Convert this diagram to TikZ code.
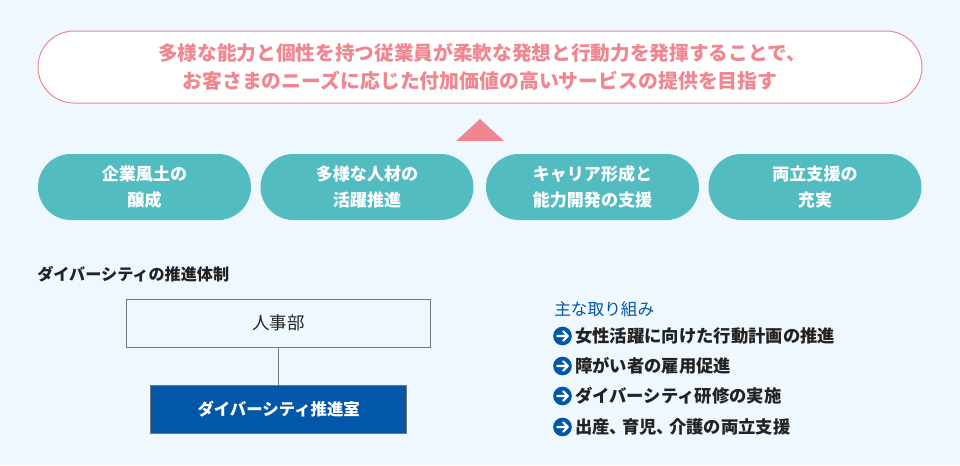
\documentclass[tikz,border=0pt]{standalone}
\usepackage{fontspec}
\setmainfont{Noto Sans CJK JP}
\definecolor{pagebg}{HTML}{EFF8FE}
\definecolor{goalpink}{HTML}{F0868F}
\definecolor{pillteal}{HTML}{52BCC1}
\definecolor{officeblue}{HTML}{0357A8}
\definecolor{listink}{HTML}{222222}
\definecolor{rulegray}{HTML}{777777}
\begin{document}
\begin{tikzpicture}[x=0.75pt, y=-0.75pt]
    \tikzstyle{goal}=[
        draw=goalpink, fill=white, line width=0.75pt, rounded corners=27pt,
        minimum width=663pt, minimum height=54pt, inner sep=0pt,
        align=center, text=goalpink, font=\fontsize{14.9pt}{21pt}\selectfont\bfseries]
    \tikzstyle{pill}=[
        fill=pillteal, rounded corners=24.75pt,
        minimum width=159.75pt, minimum height=49.5pt, inner sep=0pt,
        align=center, text=white, font=\fontsize{12.8pt}{19.5pt}\selectfont\bfseries]
    \tikzstyle{orgbox}=[
        draw=rulegray, line width=0.6pt, minimum height=36pt, inner sep=0pt]
    \tikzstyle{connector}=[draw=rulegray, line width=0.6pt]
    \tikzstyle{bullet}=[circle, fill=officeblue, minimum size=14pt, inner sep=0pt]
    \tikzstyle{itemtext}=[
        anchor=west, inner sep=0pt, text=listink,
        font=\fontsize{13pt}{15pt}\selectfont\bfseries]

    \fill [pagebg] (0, 0) rectangle (960, 465);

    \node [goal] (goal) at (480, 67)
        {\hspace{3pt}\fontsize{14.75pt}{21pt}\selectfont
         多様な能力と個性を持つ従業員が柔軟な発想と行動力を発揮することで、\\
         \fontsize{14.9pt}{21pt}\selectfont
         お客さまのニーズに応じた付加価値の高いサービスの提供を目指す};
    \fill [goalpink] (456, 141) -- (480, 119) -- (504, 141) -- cycle;

    \foreach \name / \x / \txt in {
        1/144.5/{企業風土の\\醸成},
        2/367/{多様な人材の\\活躍推進},
        3/592.5/{キャリア形成と\\能力開発の支援},
        4/815/{両立支援の\\充実}} {
        \node [pill] (P-\name) at (\x, 187) {\txt};
    }

    \node [anchor=west, inner sep=0pt, text=listink,
        font=\fontsize{12.1pt}{15pt}\selectfont\bfseries] (title) at (37, 274)
        {ダイバーシティの推進体制};

    \node [orgbox, minimum width=228pt, text=listink,
        font=\fontsize{13.1pt}{15pt}\selectfont] (hr) at (278.7, 323) {人事部};
    \node [orgbox, minimum width=192pt, fill=officeblue, text=white,
        font=\fontsize{12.3pt}{15pt}\selectfont\bfseries] (office) at (278.7, 409)
        {ダイバーシティ推進室};
    \path [connector] (hr) edge (office);

    \node [anchor=west, inner sep=0pt, text=officeblue,
        font=\fontsize{12.5pt}{15pt}\selectfont] (lead) at (554, 309)
        {主な取り組み};

    \foreach \name / \y / \txt in {
        1/336/女性活躍に向けた行動計画の推進,
        2/366/障がい者の雇用促進,
        3/396/ダイバーシティ研修の実施,
        4/427/出産、\kern-3.75pt 育児、\kern-3.75pt 介護の両立支援} {
        \node [bullet] (B-\name) at (562.5, \y) {};
        \node [itemtext] (T-\name) at (575, \y) {\txt};
        \draw [white, line width=1.6pt, line cap=round, line join=round]
            ([xshift=-4pt]B-\name.center) -- ([xshift=4pt]B-\name.center)
            ([xshift=0.5pt, yshift=3.5pt]B-\name.center)
            -- ([xshift=4pt]B-\name.center)
            -- ([xshift=0.5pt, yshift=-3.5pt]B-\name.center);
    }
\end{tikzpicture}
\end{document}
